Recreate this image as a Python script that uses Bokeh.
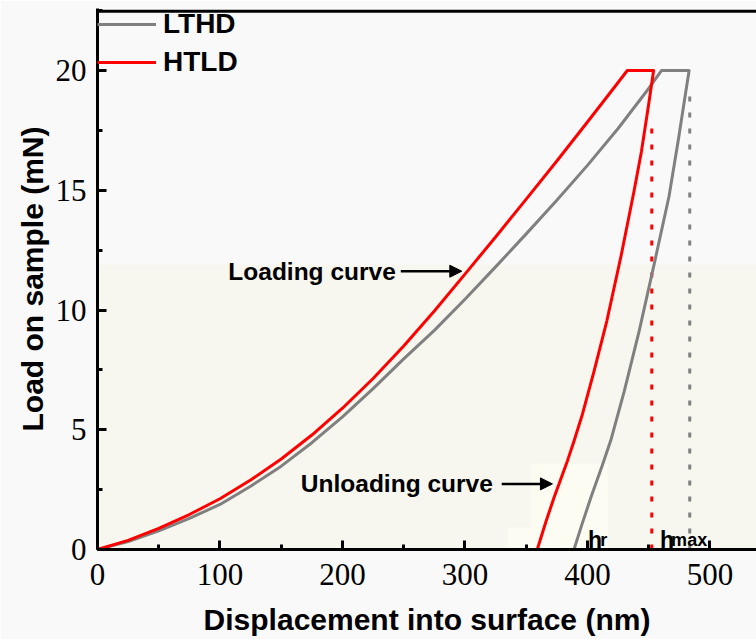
from bokeh.plotting import figure
from bokeh.models import (Range1d, Span, BoxAnnotation, Legend, LegendItem, Arrow,
                          NormalHead, Label, SingleIntervalTicker)
from bokeh.embed import file_html
from bokeh.resources import INLINE

# ---------------- data ----------------
# HTLD (red): loading, hold at peak, unloading
htld_disp = [0, 25, 50, 75, 100, 125, 150, 175, 200, 225, 250, 275, 300, 325, 350, 375,
             400, 425, 432.5,
             454,
             450, 444, 438, 427.2, 415.8, 405.4, 395.9, 389.1, 383.7, 372.8, 366, 359]
htld_load = [0, 0.38, 0.88, 1.46, 2.12, 2.9, 3.78, 4.78, 5.9, 7.14, 8.5, 9.96, 11.5, 13.05, 14.63, 16.22,
             17.85, 19.5, 20.0,
             20.0,
             18.6, 16.6, 14.96, 12.2, 9.54, 7.45, 5.65, 4.54, 3.71, 2.18, 1.15, 0.0]

# LTHD (gray): loading, hold at peak, unloading
lthd_disp = [0, 25, 50, 75, 100, 125, 150, 175, 200, 225, 250, 275, 300, 325, 350, 375,
             400, 425, 450, 460.4,
             483,
             479, 474.5, 466.6, 454.4, 442.1, 430, 419, 412, 403, 395.5, 389]
lthd_load = [0, 0.33, 0.78, 1.3, 1.88, 2.64, 3.48, 4.46, 5.54, 6.72, 7.96, 9.15, 10.45, 11.8, 13.18, 14.58,
             16.04, 17.58, 19.25, 20.0,
             20.0,
             18.7, 17.2, 14.75, 11.9, 9.1, 6.6, 4.55, 3.5, 2.2, 1.05, 0.0]

# maximum depth markers (dotted verticals)
hmax_htld = 452.5
hmax_htld_top = 18.0
hmax_lthd = 483.5
hmax_lthd_top = 19.1

x_ticks_interval = 100
y_ticks_interval = 5

# ---------------- figure ----------------
p = figure(width=756, height=639, output_backend="svg", toolbar_location=None,
           x_range=Range1d(0, 538), y_range=Range1d(0, 22.59),
           min_border_left=97, min_border_right=0, min_border_top=8, min_border_bottom=90,
           background_fill_color="#f9f9f9", border_fill_color="#f9f9f9")
p.outline_line_color = None
p.xgrid.visible = False
p.ygrid.visible = False

# faint background patches
p.add_layout(BoxAnnotation(top=11.9, fill_color="#f7f7ef", fill_alpha=1, line_color=None, level="underlay"))
p.add_layout(BoxAnnotation(left=353.7, right=416.6, top=3.59, fill_color="#fcfcf2", fill_alpha=1,
                           line_color=None, level="underlay"))
p.add_layout(BoxAnnotation(left=334.9, right=353.7, top=0.92, fill_color="#fcfcf2", fill_alpha=1,
                           line_color=None, level="underlay"))

# top border line
p.add_layout(Span(location=22.47, dimension="width", line_color="black", line_width=3))

# dotted verticals
p.segment(x0=[hmax_htld], y0=[0], x1=[hmax_htld], y1=[hmax_htld_top],
          line_color="#ff0000", line_width=3, line_dash="5 11")
p.segment(x0=[hmax_lthd], y0=[0], x1=[hmax_lthd], y1=[hmax_lthd_top],
          line_color="#808080", line_width=3, line_dash="5 11")

r_gray = p.line(lthd_disp, lthd_load, line_color="#808080", line_width=3, line_join="round")
r_red = p.line(htld_disp, htld_load, line_color="#ff0000", line_width=3, line_join="round")

# axes
p.xaxis.ticker = SingleIntervalTicker(interval=x_ticks_interval, num_minor_ticks=2)
p.yaxis.ticker = SingleIntervalTicker(interval=y_ticks_interval, num_minor_ticks=2)
for ax in (p.xaxis[0], p.yaxis[0]):
    ax.axis_line_width = 3
    ax.axis_line_color = "black"
    ax.major_tick_in = 9
    ax.major_tick_out = 0
    ax.minor_tick_in = 5
    ax.minor_tick_out = 0
    ax.major_tick_line_width = 3
    ax.minor_tick_line_width = 3
    ax.major_label_text_font = "Liberation Serif"
    ax.major_label_text_font_size = "31px"
    ax.major_label_text_color = "black"
    ax.axis_label_text_font = "Liberation Sans"
    ax.axis_label_text_font_style = "bold"
    ax.axis_label_text_font_size = "30px"
    ax.axis_label_text_color = "black"
p.xaxis.axis_label = "Displacement into surface (nm)"
p.yaxis.axis_label = "Load on sample (mN)"
p.xaxis.major_label_standoff = 14
p.xaxis.axis_label_standoff = 15
p.yaxis.major_label_standoff = 11
p.yaxis.axis_label_standoff = 4

# legend
legend = Legend(items=[LegendItem(label="LTHD", renderers=[r_gray]),
                       LegendItem(label="HTLD", renderers=[r_red])],
                location="top_left", margin=0, padding=0, spacing=6,
                glyph_width=59, glyph_height=30, label_height=30, label_standoff=7,
                label_text_font="Liberation Sans", label_text_font_style="bold",
                label_text_font_size="28px", label_text_color="black",
                background_fill_alpha=0, border_line_color=None)
p.add_layout(legend)

# annotations
ann_font = "Liberation Sans"
p.add_layout(Label(x=243.5, y=11.6, text="Loading curve", text_align="right", text_baseline="middle",
                   text_font=ann_font, text_font_style="bold", text_font_size="24.5px", text_color="black"))
p.add_layout(Arrow(x_start=247.6, y_start=11.62, x_end=297.4, y_end=11.62, line_width=2.5,
                   end=NormalHead(size=12, fill_color="black", line_color="black")))
p.add_layout(Label(x=322.7, y=2.74, text="Unloading curve", text_align="right", text_baseline="middle",
                   text_font=ann_font, text_font_style="bold", text_font_size="24.5px", text_color="black"))
p.add_layout(Arrow(x_start=330.0, y_start=2.74, x_end=371.4, y_end=2.74, line_width=2.5,
                   end=NormalHead(size=12, fill_color="black", line_color="black")))

p.add_layout(Label(x=400.5, y=0.38, text="h", text_align="left", text_baseline="alphabetic",
                   text_font=ann_font, text_font_style="bold", text_font_size="23px", text_color="black"))
p.add_layout(Label(x=410.5, y=0.38, text="r", text_align="left", text_baseline="alphabetic",
                   text_font=ann_font, text_font_style="bold", text_font_size="18px", text_color="black"))
p.add_layout(Label(x=459.3, y=0.38, text="h", text_align="left", text_baseline="alphabetic",
                   text_font=ann_font, text_font_style="bold", text_font_size="23px", text_color="black"))
p.add_layout(Label(x=468.3, y=0.38, text="max", text_align="left", text_baseline="alphabetic",
                   text_font=ann_font, text_font_style="bold", text_font_size="18px", text_color="black"))

open("out.html", "w").write(file_html(p, INLINE))
